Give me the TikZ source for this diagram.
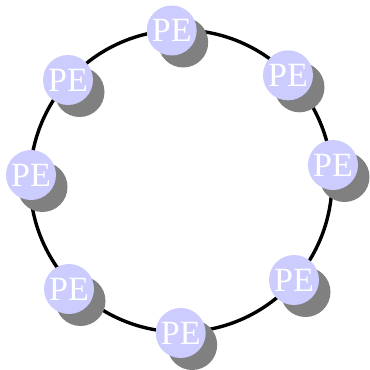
\documentclass[tikz,border=0pt]{standalone}
\usepackage{fontspec}
\setmainfont{Liberation Serif}
\begin{document}
\begin{tikzpicture}[x=1pt,y=-1pt,
  pe/.style={circle,fill=pefill,text=white,minimum size=50pt,inner sep=0pt,
             font=\fontsize{34}{34}\selectfont},
  peshadow/.style={circle,fill=shadowgray,minimum size=50pt,inner sep=0pt},
  ring/.style={draw=black,line width=3.4pt}]
\definecolor{pefill}{HTML}{CCCCFF}
\definecolor{shadowgray}{HTML}{808080}
\useasboundingbox (0,0) rectangle (370,370);
% ring
\coordinate (c) at (181,181);
\draw[ring] (c) circle[radius=151];
% shadows first, then the PE nodes on top
\foreach \n/\x/\y in {a/171.7/30.5, b/288/75.3, c2/333/165, d/294/280,
                      e/180.7/333, f/69/289, g/31/175, h/68/80}{
  \node[peshadow] (s\n) at (\x+11.5,\y+12) {};
}
\foreach \n/\x/\y in {a/171.7/30.5, b/288/75.3, c2/333/165, d/294/280,
                      e/180.7/333, f/69/289, g/31/175, h/68/80}{
  \node[pe] (\n) at (\x,\y) {PE};
}
\end{tikzpicture}
\end{document}
